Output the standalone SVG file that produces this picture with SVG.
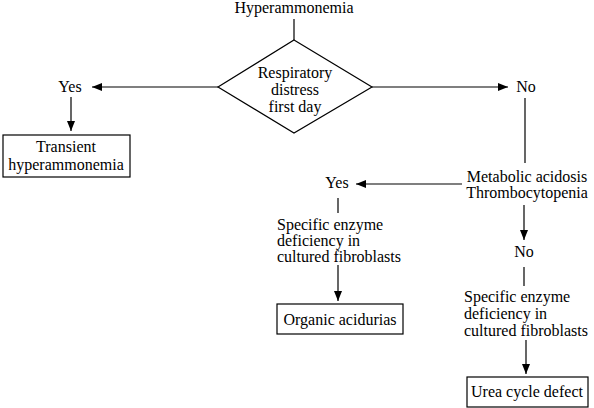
<svg xmlns="http://www.w3.org/2000/svg" width="594" height="408" viewBox="0 0 594 408">
<defs>
<marker id="ah" viewBox="0 0 10 8" refX="10" refY="4" markerWidth="10" markerHeight="8" markerUnits="userSpaceOnUse" orient="auto">
<path d="M0,0 L10,4 L0,8 Z" fill="#000"/>
</marker>
</defs>
<style>
text{font-family:"Liberation Serif","DejaVu Serif",serif;font-size:16px;fill:#000}
.m{text-anchor:middle}
.ln{stroke:#000;stroke-width:1.2;fill:none}
.bx{stroke:#000;stroke-width:1.2;fill:#fff}
</style>
<rect width="594" height="408" fill="#fff"/>
<g id="connectors">
<line class="ln" x1="294" y1="19" x2="294" y2="40"/>
<line class="ln" x1="218" y1="87" x2="92" y2="87" marker-end="url(#ah)"/>
<line class="ln" x1="71" y1="97" x2="71" y2="131" marker-end="url(#ah)"/>
<line class="ln" x1="372" y1="87" x2="508" y2="87" marker-end="url(#ah)"/>
<line class="ln" x1="525" y1="98" x2="525" y2="163"/>
<line class="ln" x1="462" y1="184" x2="356" y2="184" marker-end="url(#ah)"/>
<line class="ln" x1="338" y1="198" x2="338" y2="213"/>
<line class="ln" x1="338" y1="265" x2="338" y2="301" marker-end="url(#ah)"/>
<line class="ln" x1="524" y1="205" x2="524" y2="240" marker-end="url(#ah)"/>
<line class="ln" x1="524" y1="267" x2="524" y2="286"/>
<line class="ln" x1="526" y1="340" x2="526" y2="374" marker-end="url(#ah)"/>
</g>
<g id="start"><text class="m" x="294" y="13">Hyperammonemia</text></g>
<g id="decision1">
<polygon class="bx" points="294,40 372,87 294,133 218,87"/>
<text class="m" x="295" y="78">Respiratory</text>
<text class="m" x="295" y="95">distress</text>
<text class="m" x="295" y="112">first day</text>
</g>
<g id="yes1"><text class="m" x="70" y="92">Yes</text></g>
<g id="transient">
<rect class="bx" x="3" y="135" width="127" height="42"/>
<text class="m" x="66" y="152">Transient</text>
<text class="m" x="66" y="170">hyperammonemia</text>
</g>
<g id="no1"><text class="m" x="526" y="92">No</text></g>
<g id="metabolic">
<text class="m" x="527" y="182">Metabolic acidosis</text>
<text class="m" x="527" y="198">Thrombocytopenia</text>
</g>
<g id="yes2"><text class="m" x="337" y="188">Yes</text></g>
<g id="enzyme1">
<text x="277" y="230">Specific enzyme</text>
<text x="277" y="246">deficiency in</text>
<text x="277" y="262">cultured fibroblasts</text>
</g>
<g id="organic">
<rect class="bx" x="277" y="304" width="126" height="30"/>
<text class="m" x="340" y="325">Organic acidurias</text>
</g>
<g id="no2"><text class="m" x="524" y="257">No</text></g>
<g id="enzyme2">
<text x="464" y="302">Specific enzyme</text>
<text x="464" y="319">deficiency in</text>
<text x="464" y="336">cultured fibroblasts</text>
</g>
<g id="urea">
<rect class="bx" x="467" y="377" width="121" height="30"/>
<text class="m" x="527" y="397">Urea cycle defect</text>
</g>
</svg>
